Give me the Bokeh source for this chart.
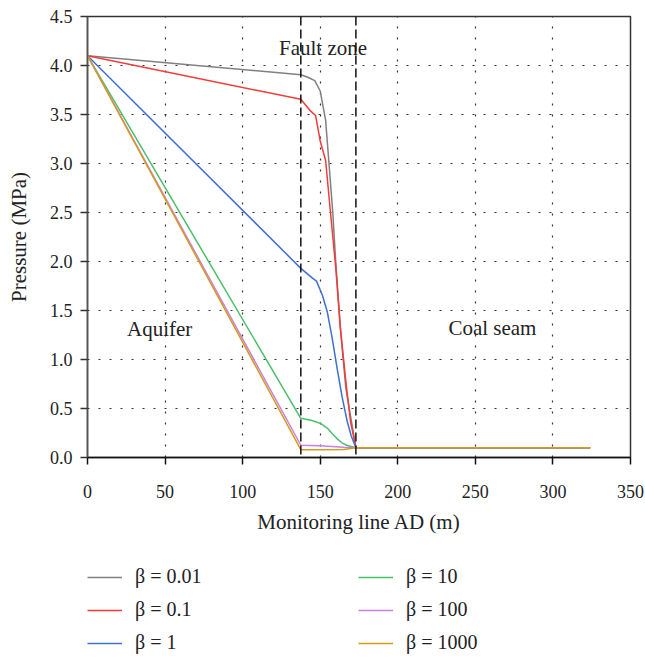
from bokeh.plotting import figure
from bokeh.layouts import column
from bokeh.models import Span, Legend, LegendItem, FixedTicker, PrintfTickFormatter, Range1d
from bokeh.embed import file_html
from bokeh.resources import INLINE
from bokeh.core.properties import value

# ---------------- data ----------------
x_ticks = [0, 50, 100, 150, 200, 250, 300, 350]
y_ticks = [0.0, 0.5, 1.0, 1.5, 2.0, 2.5, 3.0, 3.5, 4.0, 4.5]

beta_labels = ["β = 0.01", "β = 0.1", "β = 1", "β = 10", "β = 100", "β = 1000"]

x_b001 = [0, 137.5, 142, 146.5, 150, 153.5, 155.5, 158, 160, 163, 166.5, 170, 173, 324]
y_b001 = [4.1, 3.905, 3.88, 3.845, 3.74, 3.44, 3.03, 2.52, 2.0, 1.32, 0.71, 0.38, 0.1, 0.1]

x_b01 = [0, 137.5, 143.5, 147, 150, 153.5, 156.5, 160, 163, 166.5, 169.5, 173, 324]
y_b01 = [4.1, 3.655, 3.54, 3.49, 3.23, 3.03, 2.52, 1.94, 1.32, 0.78, 0.37, 0.1, 0.1]

x_b1 = [0, 137.5, 145, 147.6, 151.3, 154.5, 157.7, 160.9, 164.2, 167.4, 170, 173, 324]
y_b1 = [4.1, 1.93, 1.83, 1.80, 1.66, 1.49, 1.22, 0.91, 0.61, 0.37, 0.22, 0.1, 0.1]

x_b10 = [0, 137.5, 144, 150, 154.5, 158, 161, 164, 167, 173, 324]
y_b10 = [4.1, 0.40, 0.38, 0.35, 0.30, 0.24, 0.19, 0.15, 0.125, 0.1, 0.1]

x_b100 = [0, 137.5, 150, 165, 173, 324]
y_b100 = [4.1, 0.125, 0.12, 0.105, 0.1, 0.1]

x_b1000 = [0, 137.5, 150, 165, 173, 324]
y_b1000 = [4.1, 0.08, 0.078, 0.082, 0.1, 0.1]

zone_boundaries = [137.5, 173]

region_x = [151.8, 46.5, 261]
region_y = [4.175, 1.31, 1.32]
region_text = ["Fault zone", "Aquifer", "Coal seam"]

# ---------------- style ----------------
FONT = "Liberation Serif"
colors = ["#808080", "#f23b3b", "#3f6fcf", "#4cbf6e", "#c77fe3", "#d89a1c"]

p = figure(width=645, height=540, x_range=(0, 350), y_range=(0, 4.5),
           output_backend="svg", toolbar_location=None,
           min_border_left=87, min_border_right=15, min_border_top=16,
           min_border_bottom=83)
p.background_fill_color = "white"
p.border_fill_color = "white"
p.outline_line_color = "#333333"
p.outline_line_width = 1.5

p.xaxis.ticker = FixedTicker(ticks=x_ticks)
p.yaxis.ticker = FixedTicker(ticks=y_ticks)
p.yaxis.formatter = PrintfTickFormatter(format="%.1f")

for ax in (p.xaxis, p.yaxis):
    ax.major_label_text_font = FONT
    ax.major_label_text_font_size = "18px"
    ax.major_label_text_color = "#222222"
    ax.axis_label_text_font = FONT
    ax.axis_label_text_font_size = "21px"
    ax.axis_label_text_font_style = "normal"
    ax.axis_label_text_color = "#222222"
    ax.major_tick_in = 0
    ax.major_tick_out = 7
    ax.minor_tick_in = 0
    ax.minor_tick_out = 0
    ax.major_tick_line_width = 1.5
    ax.axis_line_width = 1.5

p.xaxis.axis_label = "Monitoring line AD (m)"
p.yaxis.axis_label = "Pressure (MPa)"
p.xaxis.axis_line_color = "#111111"
p.xaxis.major_tick_line_color = "#111111"
p.yaxis.axis_line_color = "#555555"
p.yaxis.major_tick_line_color = "#333333"
p.xaxis.major_label_standoff = 20
p.xaxis.axis_label_standoff = 9
p.yaxis.major_label_standoff = 8
p.yaxis.axis_label_standoff = 16

for g in (p.xgrid, p.ygrid):
    g.grid_line_color = "#333333"
    g.grid_line_dash = "2 9"
    g.grid_line_width = 1.2

for b in zone_boundaries:
    p.add_layout(Span(location=b, dimension="height", line_color="#111111",
                      line_dash="9 4", line_width=1.5))

series = [(x_b001, y_b001), (x_b01, y_b01), (x_b1, y_b1),
          (x_b10, y_b10), (x_b100, y_b100), (x_b1000, y_b1000)]
for (xs, ys), c in zip(series, colors):
    p.line(xs, ys, line_color=c, line_width=1.5)

p.text(x=region_x, y=region_y, text=region_text, text_font=value(FONT),
       text_font_size="21px", text_align="center", text_baseline="alphabetic",
       text_color="#222222")

# ---------------- legend (separate strip below the plot) ----------------
# the strip's ranges lie outside the data, so its copies of the series stay hidden
pl = figure(width=645, height=118, output_backend="svg", toolbar_location=None,
            x_axis_type=None, y_axis_type=None,
            x_range=Range1d(1000, 1001), y_range=Range1d(1000, 1001),
            min_border_left=0, min_border_right=0, min_border_top=0,
            min_border_bottom=0)
pl.outline_line_color = None
pl.xgrid.visible = False
pl.ygrid.visible = False
pl.background_fill_color = "white"
pl.border_fill_color = "white"

items = []
for (xs, ys), c, lab in zip(series, colors, beta_labels):
    r = pl.line(xs, ys, line_color=c, line_width=1.5)
    items.append(LegendItem(label=lab, renderers=[r]))

legend = Legend(items=items, location=(0, 4), orientation="vertical", ncols=2,
                label_text_font=FONT, label_text_font_size="20px",
                label_text_color="#222222",
                glyph_width=35, glyph_height=22, label_height=22,
                label_width=213, label_standoff=13, spacing=10,
                padding=0, margin=0, border_line_alpha=0,
                background_fill_alpha=0)
pl.add_layout(legend)

layout = column(p, pl, spacing=0)
open("out.html", "w").write(file_html(layout, INLINE))
